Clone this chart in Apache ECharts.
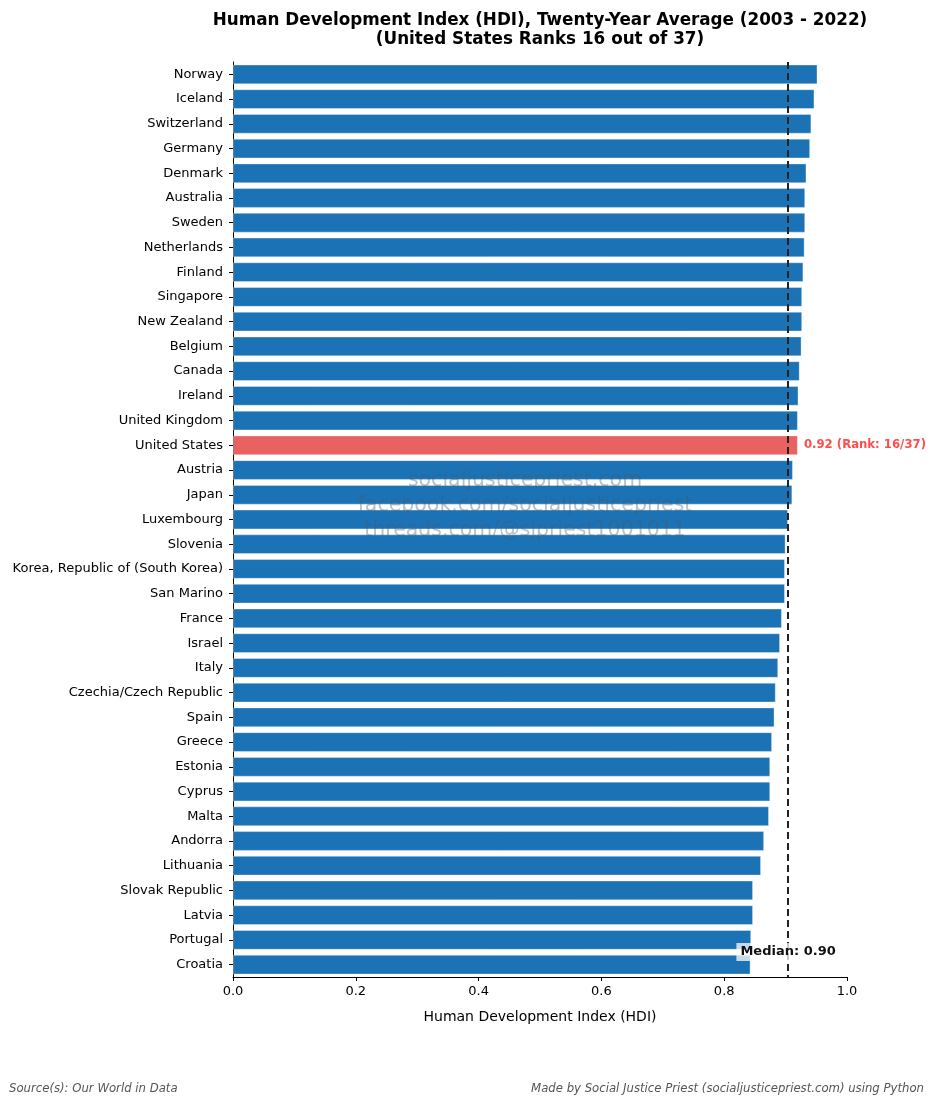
<!DOCTYPE html>
<html>
<head>
<meta charset="utf-8">
<script src="https://cdn.jsdelivr.net/npm/echarts@6/dist/echarts.min.js"></script>
<style>
html,body{margin:0;padding:0;background:#fff;}
#chart{width:936px;height:1105px;}
</style>
</head>
<body>
<div id="chart"></div>
<script>
const countries = ["Norway","Iceland","Switzerland","Germany","Denmark","Australia","Sweden","Netherlands","Finland","Singapore","New Zealand","Belgium","Canada","Ireland","United Kingdom","United States","Austria","Japan","Luxembourg","Slovenia","Korea, Republic of (South Korea)","San Marino","France","Israel","Italy","Czechia/Czech Republic","Spain","Greece","Estonia","Cyprus","Malta","Andorra","Lithuania","Slovak Republic","Latvia","Portugal","Croatia"];
const hdiValues = [0.952,0.947,0.942,0.940,0.934,0.932,0.932,0.931,0.929,0.927,0.927,0.926,0.923,0.921,0.920,0.920,0.912,0.911,0.904,0.900,0.899,0.899,0.894,0.891,0.888,0.884,0.882,0.878,0.875,0.875,0.873,0.865,0.860,0.847,0.847,0.844,0.843];
const highlightCountry = "United States";
const xTicks = [0, 0.2, 0.4, 0.6, 0.8, 1.0];
const titleLines = ["Human Development Index (HDI), Twenty-Year Average (2003 - 2022)", "(United States Ranks 16 out of 37)"];
const watermarkLines = ["socialjusticepriest.com", "facebook.com/socialjusticepriest", "threads.com/@sjpriest1001011"];

const sorted = hdiValues.slice().sort((a,b)=>a-b);
const median = sorted[Math.floor(sorted.length/2)];
const hiIdx = countries.indexOf(highlightCountry);
const FONT = "DejaVu Sans";

const barData = hdiValues.map((v,i)=>{
  if (i === hiIdx) {
    return {
      value: v,
      itemStyle: {color: '#e86262'},
      label: {
        show: true, position: 'right', distance: 6,
        formatter: v.toFixed(2) + ' (Rank: ' + (hiIdx+1) + '/' + countries.length + ')',
        color: '#ff4d4d', fontWeight: 'bold', fontSize: 11.7, fontFamily: FONT
      }
    };
  }
  return v;
});

const chart = echarts.init(document.getElementById('chart'), null, {renderer:'canvas'});
chart.setOption({
  animation: false,
  backgroundColor: '#fff',
  title: {
    text: titleLines.join('\n'),
    left: 535, top: 6, textAlign: 'center',
    textStyle: {fontFamily: FONT, fontSize: 16.8, fontWeight: 'bold', color: '#000', lineHeight: 19}
  },
  grid: {left: 233, right: 89, top: 62, bottom: 128, containLabel: false},
  xAxis: {
    type: 'value', min: xTicks[0], max: xTicks[xTicks.length-1], interval: 0.2,
    name: 'Human Development Index (HDI)', nameLocation: 'middle', nameGap: 33,
    nameTextStyle: {fontFamily: FONT, fontSize: 14, color: '#000'},
    axisLine: {show: true, lineStyle: {color: '#000', width: 1}},
    axisTick: {show: true, inside: false, length: 4, lineStyle: {color: '#000'}},
    axisLabel: {fontFamily: FONT, fontSize: 13, color: '#000', margin: 8, formatter: v => v.toFixed(1)},
    splitLine: {show: false}
  },
  yAxis: {
    type: 'category', data: countries, inverse: true,
    axisLine: {show: true, lineStyle: {color: '#000', width: 1}},
    axisTick: {show: true, alignWithLabel: true, length: 4, lineStyle: {color: '#000'}},
    axisLabel: {fontFamily: FONT, fontSize: 13, color: '#000', margin: 10},
    splitLine: {show: false}
  },
  series: [{
    type: 'bar',
    data: barData,
    barCategoryGap: '20%',
    itemStyle: {color: '#1b72b5', borderColor: 'rgba(255,255,255,0.35)', borderWidth: 1},
    z: 2,
    markLine: {
      silent: true, symbol: ['none','none'], precision: 6,
      label: {show: false},
      lineStyle: {type: [7,4], color: '#222', width: 2},
      data: [{xAxis: median}],
      z: 3
    },
    markPoint: {
      silent: true,
      symbol: 'rect', symbolSize: [1,1],
      itemStyle: {color: 'rgba(0,0,0,0)'},
      data: [{coord: [median, countries[countries.length-2]]}],
      label: {
        show: true, position: 'inside', offset: [0, 12],
        formatter: 'Median: ' + median.toFixed(2),
        fontFamily: FONT, fontSize: 13, fontWeight: 'bold', color: '#111',
        backgroundColor: 'rgba(255,255,255,0.75)', padding: [3,4,2,4]
      },
      z: 5
    }
  }],
  graphic: [
    {
      type: 'text', x: 525, y: 468, z: 10,
      style: {
        text: watermarkLines.join('\n'), fill: 'rgba(80,90,100,0.38)',
        font: '20.5px "DejaVu Sans"', lineHeight: 25, align: 'center', verticalAlign: 'top'
      }
    },
    {
      type: 'text', left: 9, top: 1083,
      style: {text: 'Source(s): Our World in Data', fill: '#555', font: 'italic 11.7px "DejaVu Sans"'}
    },
    {
      type: 'text', right: 12, top: 1083,
      style: {text: 'Made by Social Justice Priest (socialjusticepriest.com) using Python', fill: '#555', font: 'italic 11.7px "DejaVu Sans"'}
    }
  ]
});
</script>
</body>
</html>
